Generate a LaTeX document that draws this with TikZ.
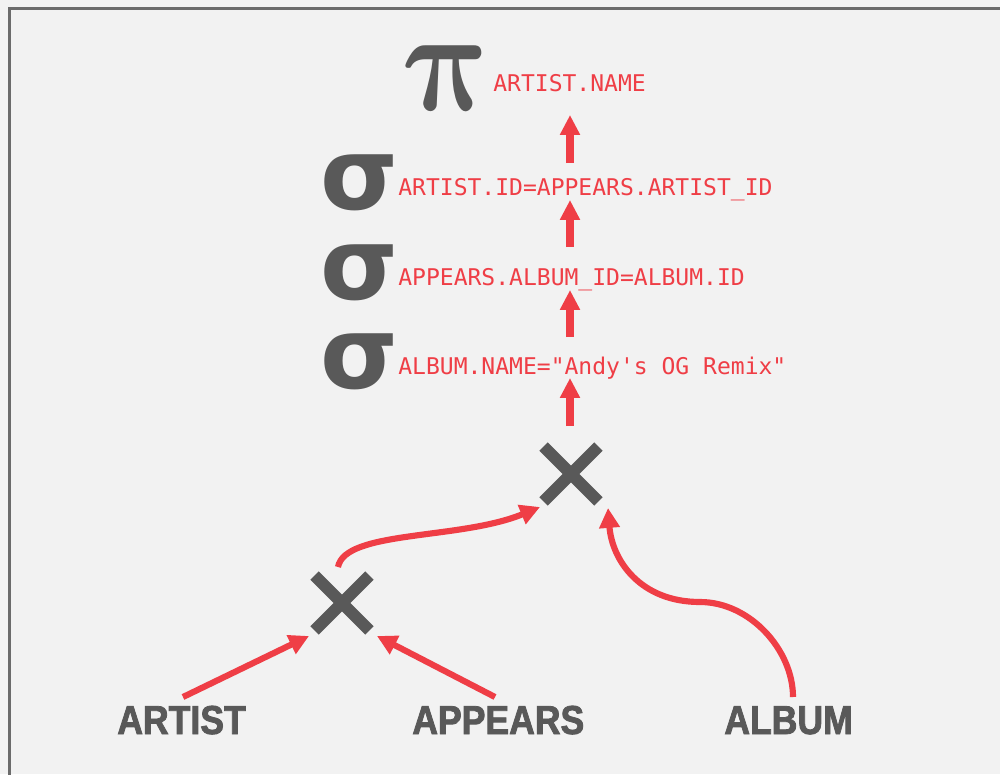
\documentclass[tikz,border=0pt]{standalone}
\usepackage{fontspec}
\usetikzlibrary{arrows.meta,shapes.misc}
\newfontfamily\monof{DejaVu Sans Mono}
\newfontfamily\labf{Liberation Sans}[FakeStretch=0.88,FakeBold=2]
\newfontfamily\grkf{DejaVu Sans}
\definecolor{bgc}{HTML}{F2F2F2}
\definecolor{frm}{HTML}{6B6B6B}
\definecolor{ink}{HTML}{595959}
\definecolor{redc}{HTML}{EF3E46}
\begin{document}
\begin{tikzpicture}[x=0.02cm,y=-0.02cm,
  mono/.style={inner sep=0pt,anchor=base west,text=redc,font=\monof\fontsize{13.1pt}{15pt}\selectfont},
  greek/.style={inner sep=0pt,anchor=base west,text=ink,text height=0.55cm,text depth=0pt,font=\grkf\bfseries\fontsize{57pt}{60pt}\selectfont},
  pisty/.style={inner sep=0pt,anchor=base west,text=ink,font=\boldmath},
  lab/.style={inner sep=0pt,anchor=base west,text=ink,font=\labf\bfseries\fontsize{23pt}{25pt}\selectfont},
  xop/.style={cross out,draw=ink,line width=6.8pt,minimum size=0.86cm,inner sep=0pt},
  arr/.style={draw=redc,line width=4pt,-{Triangle[length=11.3pt,width=10.8pt]}},
  carr/.style={draw=redc,line width=3.5pt,-{Triangle[length=11.3pt,width=11.3pt]}}]
\useasboundingbox[fill=bgc] (0,0) rectangle (1000,774);
\draw[frm,line width=1.7pt] (9.5,790) -- (9.5,8.5) -- (1010,8.5);
% operators
\node[pisty,xscale=7,yscale=8.3,xslant=-0.2] (piop) at (407,110) {$\pi$};
\node[mono] (pname) at (493,91) {ARTIST.NAME};
\node[greek] (s1) at (320,209) {σ};
\node[mono] (c1) at (398,195) {ARTIST.ID=APPEARS.ARTIST\_ID};
\node[greek] (s2) at (320,299) {σ};
\node[mono] (c2) at (398,285) {APPEARS.ALBUM\_ID=ALBUM.ID};
\node[greek] (s3) at (320,388) {σ};
\node[mono] (c3) at (398,374) {ALBUM.NAME=\textquotedbl Andy\textquotesingle s OG Remix\textquotedbl};
\node[xop] (j2) at (571,474) {};
\node[xop] (j1) at (342,603) {};
\node[lab] (artist) at (117,734) {ARTIST};
\node[lab] (appears) at (412,734) {APPEARS};
\node[lab] (album) at (724,734) {ALBUM};
% arrow ends
\coordinate (t1) at (570,163); \coordinate (h1) at (570,115);
\coordinate (t2) at (570,247); \coordinate (h2) at (570,200);
\coordinate (t3) at (570,337); \coordinate (h3) at (570,290);
\coordinate (t4) at (570,426); \coordinate (h4) at (570,378);
\coordinate (ta) at (183,697); \coordinate (ha) at (309,636);
\coordinate (tp) at (495,697); \coordinate (hp) at (377,636);
\coordinate (tj) at (338,567); \coordinate (hj) at (540,507);
\coordinate (tb) at (793,697); \coordinate (hb) at (608,508);
\draw[arr] (t1) -- (h1);
\draw[arr] (t2) -- (h2);
\draw[arr] (t3) -- (h3);
\draw[arr] (t4) -- (h4);
\draw[carr] (ta) -- (ha);
\draw[carr] (tp) -- (hp);
\draw[carr] (tj) .. controls (345,530) and (460,540) .. (hj);
\draw[carr] (tb) .. controls (793,650) and (750,602) .. (700,602) .. controls (640,602) and (612,560) .. (hb);
\end{tikzpicture}
\end{document}
